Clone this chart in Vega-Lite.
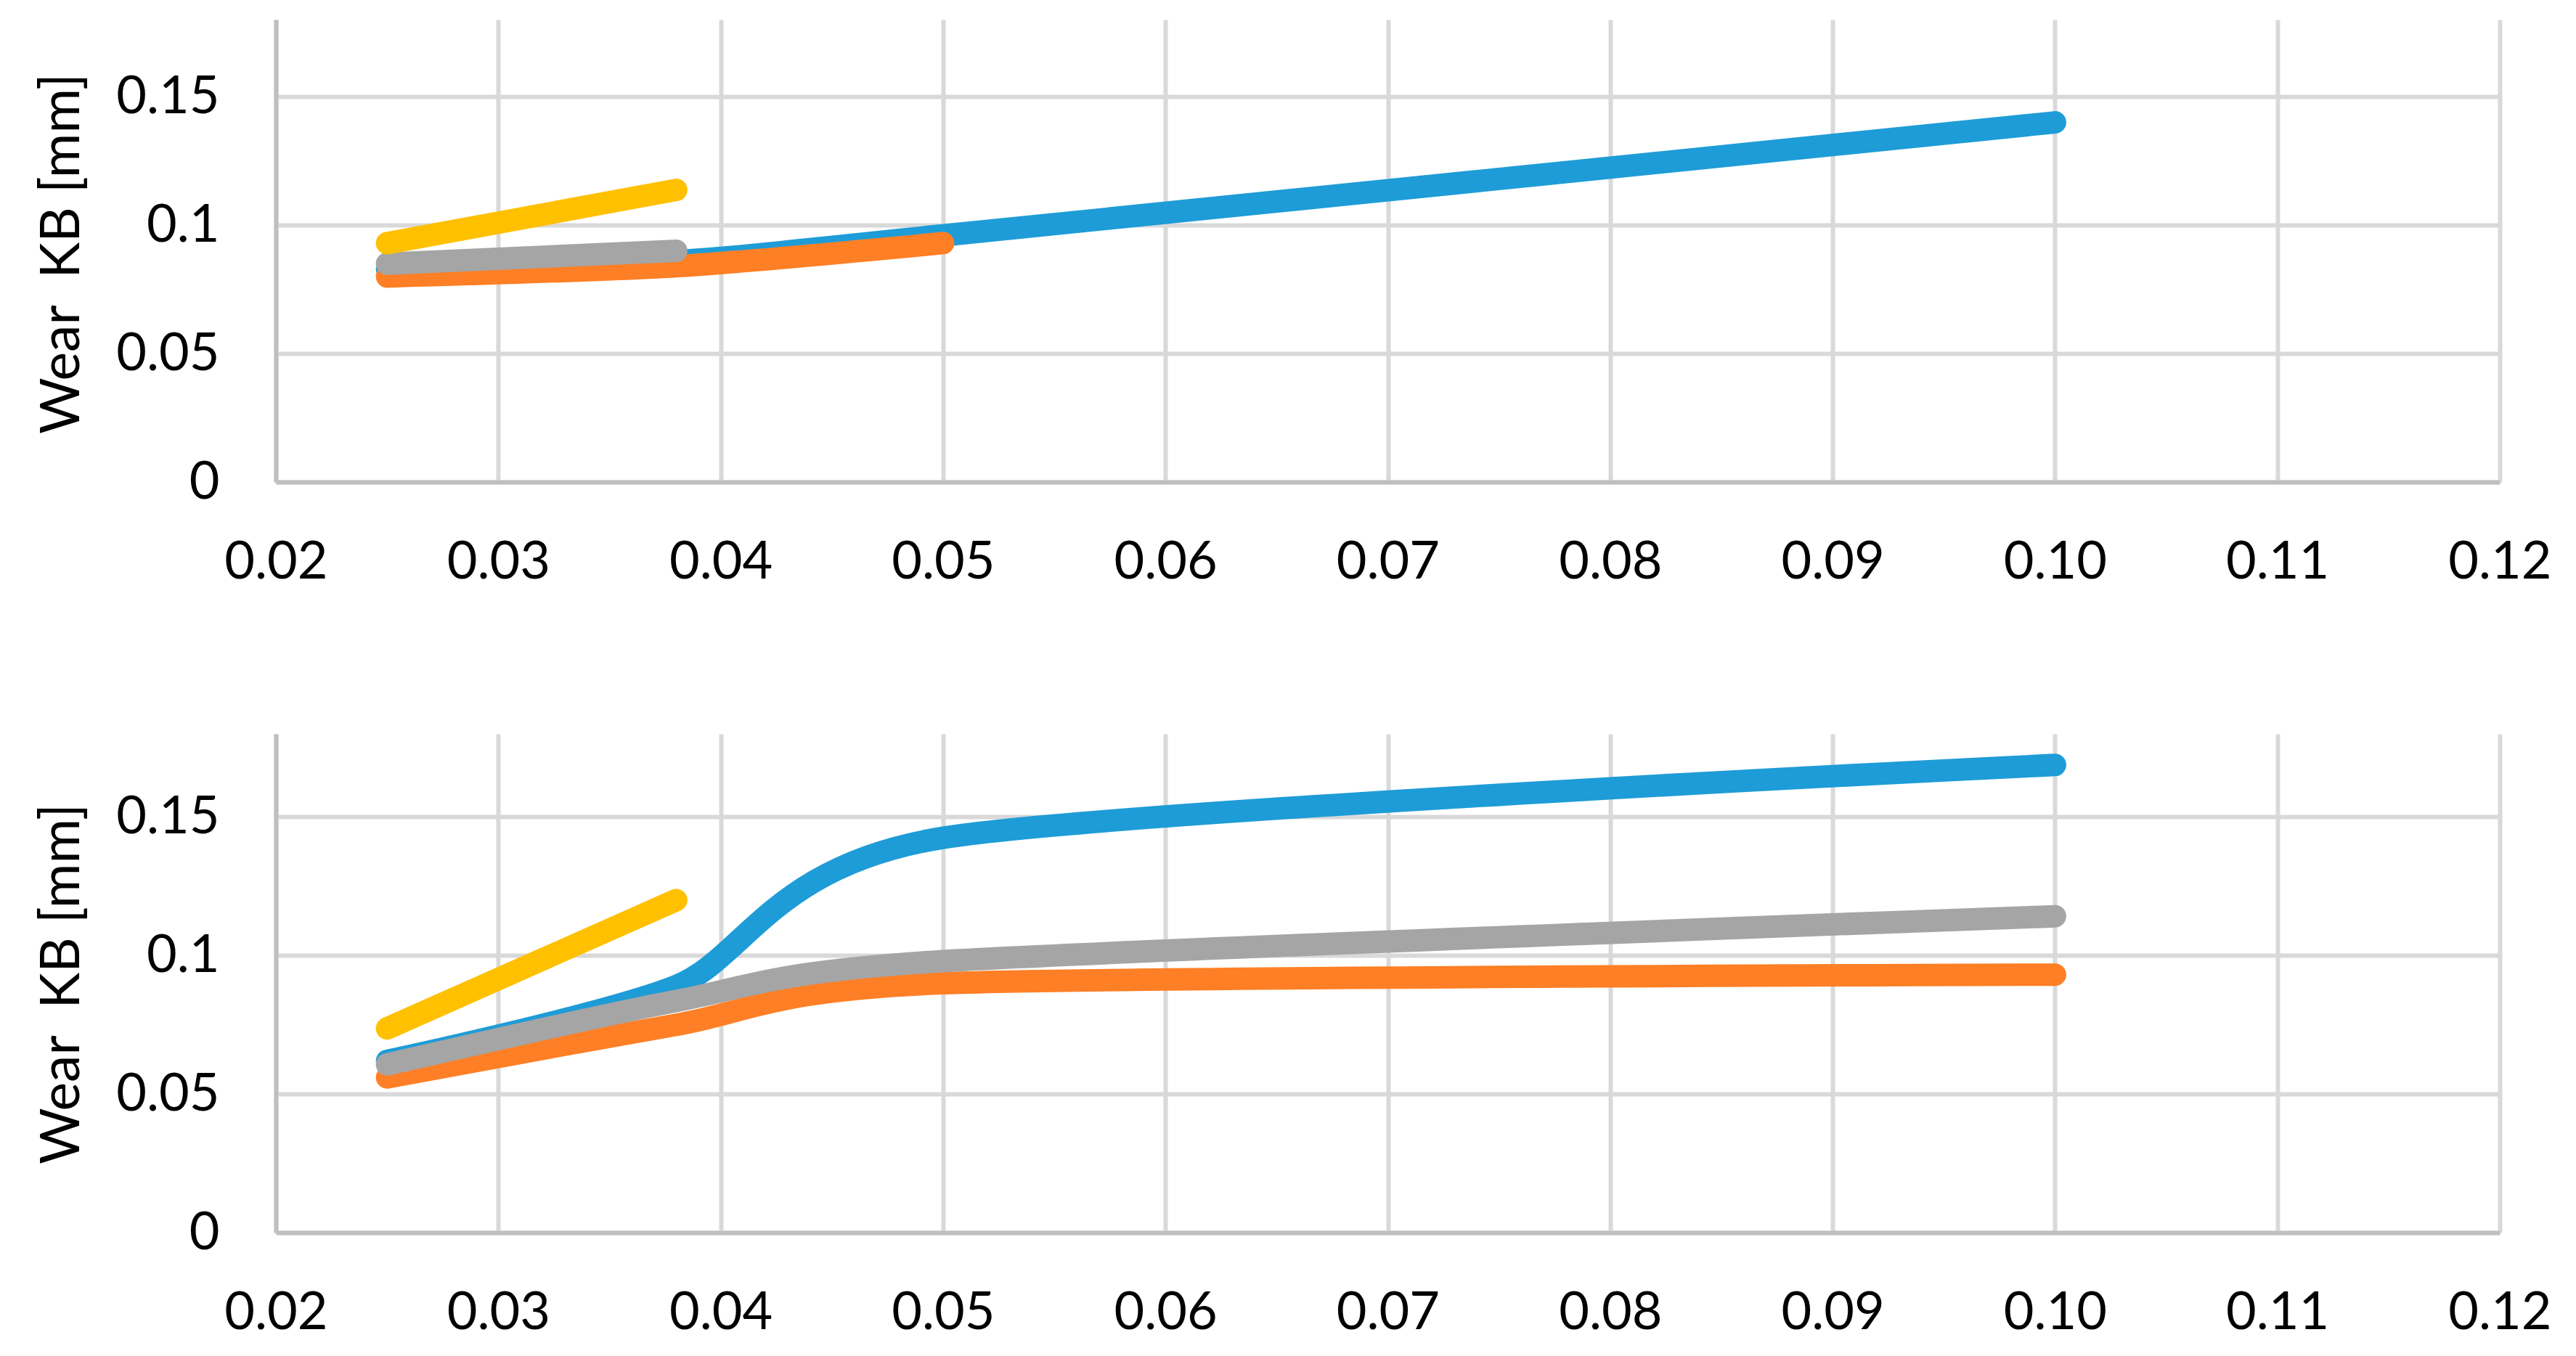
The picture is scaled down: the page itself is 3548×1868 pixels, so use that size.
{
  "$schema": "https://vega.github.io/schema/vega-lite/v6.json",
  "background": "white",
  "padding": {"left": 47, "top": 27, "right": 0, "bottom": 0},
  "config": {
    "view": {"stroke": null},
    "axis": {
      "grid": true,
      "gridColor": "#D9D9D9",
      "gridWidth": 6,
      "domainColor": "#BFBFBF",
      "domainWidth": 6,
      "ticks": false,
      "labelFlush": false,
      "labelFont": "Lato",
      "labelFontSize": 72,
      "labelColor": "#000000",
      "titleFont": "Lato",
      "titleFontSize": 75,
      "titleFontWeight": "normal",
      "titleColor": "#000000"
    },
    "axisY": {
      "titleAngle": -90,
      "titleAlign": "center",
      "titleBaseline": "alphabetic",
      "titleX": -272
    }
  },
  "datasets": {
    "upper": [
      {"series": "s1", "feed": 0.025, "kb": 0.083},
      {"series": "s1", "feed": 0.038, "kb": 0.086},
      {"series": "s1", "feed": 0.05, "kb": 0.096},
      {"series": "s1", "feed": 0.1, "kb": 0.140},
      {"series": "s2", "feed": 0.025, "kb": 0.080},
      {"series": "s2", "feed": 0.038, "kb": 0.084},
      {"series": "s2", "feed": 0.05, "kb": 0.093},
      {"series": "s3", "feed": 0.025, "kb": 0.085},
      {"series": "s3", "feed": 0.038, "kb": 0.090},
      {"series": "s4", "feed": 0.025, "kb": 0.093},
      {"series": "s4", "feed": 0.038, "kb": 0.1137}
    ],
    "lower": [
      {"series": "s1", "feed": 0.025, "kb": 0.062},
      {"series": "s1", "feed": 0.038, "kb": 0.089},
      {"series": "s1", "feed": 0.05, "kb": 0.1425},
      {"series": "s1", "feed": 0.1, "kb": 0.1688},
      {"series": "s2", "feed": 0.025, "kb": 0.056},
      {"series": "s2", "feed": 0.038, "kb": 0.075},
      {"series": "s2", "feed": 0.05, "kb": 0.090},
      {"series": "s2", "feed": 0.1, "kb": 0.0931},
      {"series": "s3", "feed": 0.025, "kb": 0.0607},
      {"series": "s3", "feed": 0.038, "kb": 0.0836},
      {"series": "s3", "feed": 0.05, "kb": 0.098},
      {"series": "s3", "feed": 0.1, "kb": 0.1142},
      {"series": "s4", "feed": 0.025, "kb": 0.0737},
      {"series": "s4", "feed": 0.038, "kb": 0.120}
    ]
  },
  "bounds": "flush",
  "spacing": 347,
  "vconcat": [
    {
      "width": 3063,
      "height": 637,
      "data": {"name": "upper"},
      "mark": {"type": "line", "interpolate": "cardinal", "tension": 0.25, "strokeWidth": 31, "strokeCap": "round", "strokeJoin": "round"},
      "encoding": {
        "x": {
          "field": "feed", "type": "quantitative",
          "scale": {"domain": [0.02, 0.12], "nice": false, "zero": false},
          "axis": {"title": null, "values": [0.02, 0.03, 0.04, 0.05, 0.06, 0.07, 0.08, 0.09, 0.1, 0.11, 0.12], "format": ".2f", "labelPadding": 75}
        },
        "y": {
          "field": "kb", "type": "quantitative",
          "scale": {"domain": [0, 0.18], "nice": false},
          "axis": {"title": "Wear\u00a0 KB [mm]", "values": [0, 0.05, 0.1, 0.15], "format": "~g", "labelPadding": 78, "titleY": 322}
        },
        "color": {
          "field": "series", "type": "nominal", "legend": null,
          "scale": {"domain": ["s1", "s2", "s3", "s4"], "range": ["#1E9CD7", "#FE7F25", "#A5A5A5", "#FFC000"]}
        }
      }
    },
    {
      "width": 3063,
      "height": 687,
      "data": {"name": "lower"},
      "mark": {"type": "line", "interpolate": "cardinal", "tension": 0.25, "strokeWidth": 31, "strokeCap": "round", "strokeJoin": "round"},
      "encoding": {
        "x": {
          "field": "feed", "type": "quantitative",
          "scale": {"domain": [0.02, 0.12], "nice": false, "zero": false},
          "axis": {"title": null, "values": [0.02, 0.03, 0.04, 0.05, 0.06, 0.07, 0.08, 0.09, 0.1, 0.11, 0.12], "format": ".2f", "labelPadding": 75}
        },
        "y": {
          "field": "kb", "type": "quantitative",
          "scale": {"domain": [0, 0.18], "nice": false},
          "axis": {"title": "Wear\u00a0 KB [mm]", "values": [0, 0.05, 0.1, 0.15], "format": "~g", "labelPadding": 78, "titleY": 344}
        },
        "color": {
          "field": "series", "type": "nominal", "legend": null,
          "scale": {"domain": ["s1", "s2", "s3", "s4"], "range": ["#1E9CD7", "#FE7F25", "#A5A5A5", "#FFC000"]}
        }
      }
    }
  ]
}
